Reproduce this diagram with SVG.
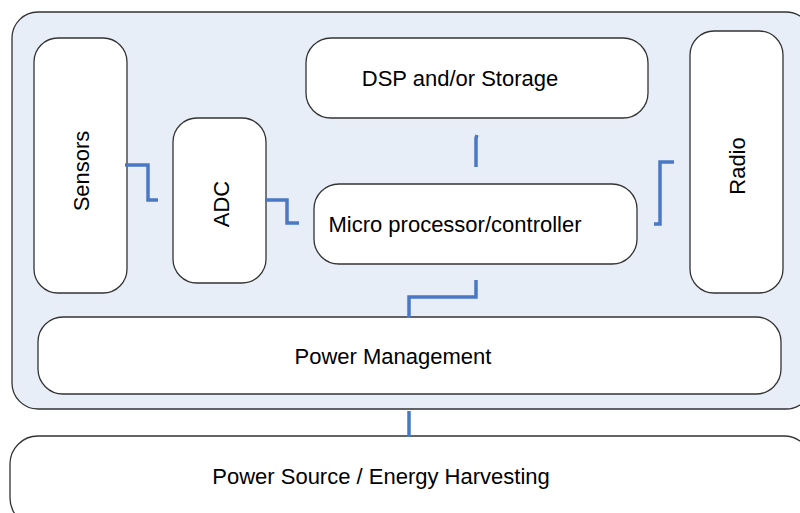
<svg xmlns="http://www.w3.org/2000/svg" width="800" height="513" viewBox="0 0 800 513">
<style>
.box{fill:#fff;stroke:#333;stroke-width:1.3}
.t{font-family:"Liberation Sans",Arial,sans-serif;font-size:22px;fill:#000;text-anchor:middle;dominant-baseline:central}
.c{fill:none;stroke:#4a78c4;stroke-width:3.5}
</style>
<rect width="800" height="513" fill="#fff"/>
<g id="panel"><rect x="12" y="12" width="800" height="397" rx="26" fill="#e8eef8" stroke="#333" stroke-width="1.3"/></g>
<g id="sensors"><rect class="box" x="34" y="38" width="93" height="255" rx="24"/><text class="t" transform="translate(81,171) rotate(-90)">Sensors</text></g>
<g id="adc"><rect class="box" x="173" y="118" width="93" height="165" rx="24"/><text class="t" transform="translate(221,204) rotate(-90)">ADC</text></g>
<g id="dsp"><rect class="box" x="306" y="38" width="342" height="80" rx="25"/><text class="t" x="460" y="78">DSP and/or Storage</text></g>
<g id="micro"><rect class="box" x="314" y="184" width="323" height="80" rx="25"/><text class="t" x="455" y="224">Micro processor/controller</text></g>
<g id="radio"><rect class="box" x="690" y="31" width="93" height="262" rx="24"/><text class="t" transform="translate(737,166) rotate(-90)">Radio</text></g>
<g id="power-management"><rect class="box" x="38" y="317" width="743" height="77" rx="25"/><text class="t" x="393" y="356">Power Management</text></g>
<g id="power-source"><rect class="box" x="10" y="436" width="802" height="90" rx="28"/><text class="t" x="381" y="476">Power Source / Energy Harvesting</text></g>
<g id="connectors">
<path class="c" d="M125 165H148V200H158"/>
<path class="c" d="M265 200H287V223H299"/>
<path class="c" d="M476 167V138L477 135"/>
<path class="c" d="M654 224H660V162H674"/>
<path class="c" d="M409 318V297H476V280"/>
<path class="c" d="M409 411V437"/>
</g>
</svg>
